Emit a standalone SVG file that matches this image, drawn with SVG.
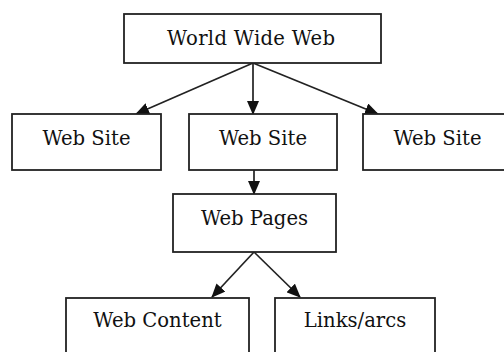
<svg xmlns="http://www.w3.org/2000/svg" width="504" height="352" viewBox="0 0 504 352">
<style>
.box{fill:#fff;stroke:#222;stroke-width:1.8}
.lbl{font-family:"DejaVu Serif","Liberation Serif",serif;font-size:19.6px;fill:#111;text-anchor:middle}
.edge{stroke:#222;stroke-width:1.7;fill:none;marker-end:url(#ah)}
</style>
<defs>
<marker id="ah" markerUnits="userSpaceOnUse" markerWidth="14" markerHeight="12" viewBox="0 0 14 12" refX="13" refY="6" orient="auto">
<path d="M0,0 L14,6 L0,12 Z" fill="#111"/>
</marker>
</defs>
<rect width="504" height="352" fill="#fff"/>
<g id="connectors">
<line class="edge" x1="253" y1="63" x2="136" y2="114"/>
<line class="edge" x1="253" y1="63" x2="253" y2="114"/>
<line class="edge" x1="253" y1="63" x2="378" y2="114"/>
<line class="edge" x1="254" y1="170" x2="254" y2="194"/>
<line class="edge" x1="254" y1="252" x2="212" y2="297"/>
<line class="edge" x1="254" y1="252" x2="300" y2="297"/>
</g>
<g id="www"><rect class="box" x="124" y="14" width="257" height="49"/><text class="lbl" x="251" y="45" textLength="168" lengthAdjust="spacing">World Wide Web</text></g>
<g id="site1"><rect class="box" x="12" y="114" width="149" height="56"/><text class="lbl" x="86.5" y="145">Web Site</text></g>
<g id="site2"><rect class="box" x="189" y="114" width="148" height="56"/><text class="lbl" x="263" y="145">Web Site</text></g>
<g id="site3"><rect class="box" x="363" y="114" width="150" height="56"/><text class="lbl" x="437.5" y="145">Web Site</text></g>
<g id="pages"><rect class="box" x="173" y="194" width="163" height="58"/><text class="lbl" x="254.5" y="225">Web Pages</text></g>
<g id="content"><rect class="box" x="66" y="298" width="183" height="64"/><text class="lbl" x="157.5" y="327">Web Content</text></g>
<g id="links"><rect class="box" x="275" y="298" width="160" height="64"/><text class="lbl" x="355" y="327">Links/arcs</text></g>
</svg>
